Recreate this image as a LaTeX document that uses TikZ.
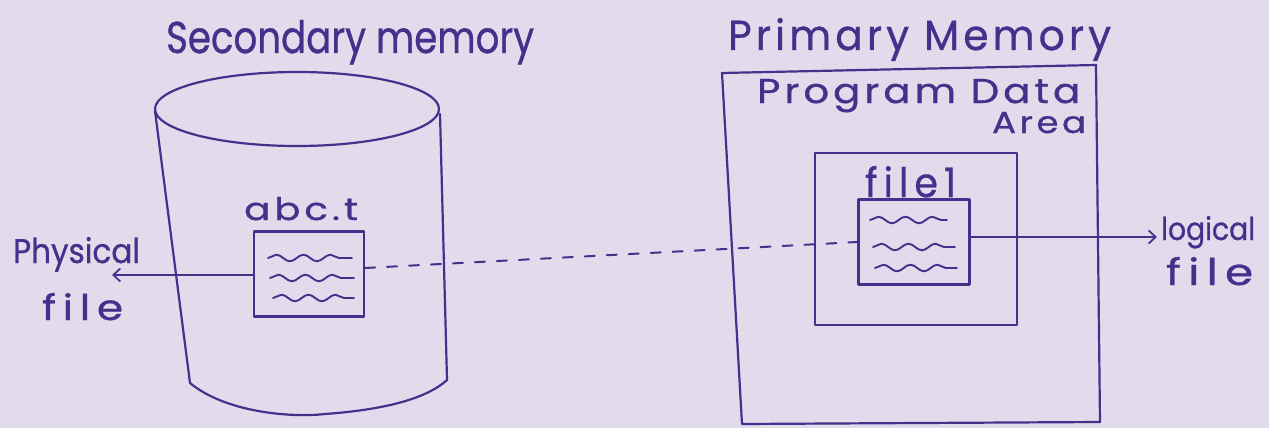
\documentclass[tikz,border=0pt]{standalone}
\usepackage{fontspec}
\setmainfont{Poppins}[FakeBold=0.8]
\newfontfamily\wide{Poppins}[LetterSpace=10,FakeBold=0.8]
\newfontfamily\wider{Poppins}[LetterSpace=16,FakeBold=0.8]
\usetikzlibrary{arrows.meta,decorations.pathmorphing}
\definecolor{paper}{RGB}{226,219,236}
\definecolor{ink}{RGB}{66,50,140}
\begin{document}
\begin{tikzpicture}[x=1pt,y=-1pt, line width=2.2pt, draw=ink, line cap=round, line join=round,
  lbl/.style={anchor=base west, inner sep=0pt, text=ink},
  box/.style={draw=ink, rectangle, inner sep=0pt},
  wave/.style={draw=ink, decorate, decoration={snake, segment length=27pt, amplitude=3.3pt}, line width=1.9pt},
  tip/.style={draw=ink, line width=1.8pt, -{Straight Barb[length=7pt,width=13pt,line width=1.8pt]}},
  dashline/.style={draw=ink, line width=2pt, dash pattern=on 10pt off 12pt}]
\fill[paper] (0,0) rectangle (1269,428);
\useasboundingbox (0,0) rectangle (1269,428);

% titles
\node[lbl] (tsec) at (165,53) {\resizebox{368pt}{33pt}{Secondary memory}};
\node[lbl] (tpri) at (727,50) {\resizebox{383pt}{32pt}{\wide Primary Memory}};

% secondary memory cylinder
\draw[ink] (297,109) ellipse [x radius=142pt, y radius=37pt];
\draw[ink] (155,111) -- (190,383) .. controls (225,412) and (290,418) .. (325,414)
  .. controls (380,410) and (425,400) .. (447,380) -- (440,114);

% physical file
\node[lbl] (tabc) at (243,220) {\resizebox{114pt}{23pt}{\wide abc.t}};
\node[box, minimum width=110pt, minimum height=85pt] (abc) at (309,274) {};
\draw[wave] (268,258) -- (352,258);
\draw[wave] (270,278) -- (354,278);
\draw[wave] (273,298) -- (354,298);
\node[lbl] (tphys) at (12,263) {\resizebox{127pt}{26pt}{Physical}};
\node[lbl] (tfileL) at (41,320) {\resizebox{81pt}{27pt}{\wider file}};
\coordinate (physEnd) at (112,275);
\draw[tip] (abc.west |- physEnd) -- (physEnd);

% primary memory
\draw[ink] (722,73) -- (1096,65) -- (1100,422) -- (742,424) -- cycle;
\node[lbl] (tprog) at (756,103) {\resizebox{323pt}{24pt}{\wide Program Data}};
\node[lbl] (tarea) at (991,133) {\resizebox{94pt}{21pt}{\wide Area}};
\node[box, minimum width=202pt, minimum height=172pt] (pda) at (916,239) {};
\node[lbl] (tfile1) at (864,197) {\resizebox{91pt}{31pt}{\wider file1}};
\node[box, minimum width=111pt, minimum height=85pt] (f1) at (914,242) {};
\draw[wave] (870,220) -- (947,220);
\draw[wave] (873,247) -- (955,247);
\draw[wave] (875,268) -- (957,268);
\node[lbl] (tlog) at (1160,240) {\resizebox{94pt}{24pt}{logical}};
\node[lbl] (tfileR) at (1165,285) {\resizebox{87pt}{28pt}{\wider file}};
\coordinate (logEnd) at (1157,237);
\draw[tip] (f1.east |- logEnd) -- (logEnd);

% link between physical and logical file
\draw[dashline] ([yshift=6pt]abc.east) -- (f1.west);
\end{tikzpicture}
\end{document}
